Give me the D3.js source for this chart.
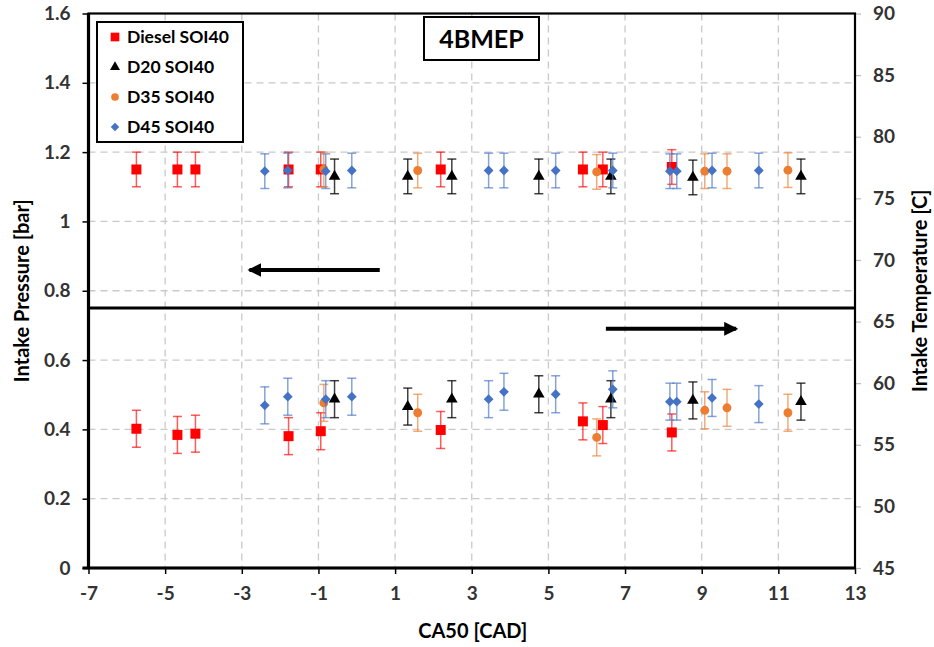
<!DOCTYPE html>
<html>
<head>
<meta charset="utf-8">
<script src="https://cdnjs.cloudflare.com/ajax/libs/d3/7.8.5/d3.min.js"></script>
<style>
    body { margin: 0; background: #fff; }
    #chart { width: 934px; height: 647px; }
    text { font-family: Lato, "Open Sans", sans-serif; }
</style>
</head>
<body>
<div id="chart"></div>
<script>

// ---- data ----
// CA50 [CAD] of each operating point, pressure in bar, temperature in C
const dieselCA50 = [-5.75, -4.68, -4.21, -1.78, -0.94, 2.19, 5.9, 6.42, 8.22];
const dieselPressure = [1.15, 1.15, 1.15, 1.15, 1.15, 1.15, 1.15, 1.15, 1.157];
const dieselTemp = [56.3, 55.8, 55.9, 55.7, 56.1, 56.2, 56.9, 56.6, 56.0];

const d20CA50 = [-0.58, 1.33, 2.48, 4.75, 6.63, 8.77, 11.59];
const d20Pressure = [1.13, 1.13, 1.13, 1.13, 1.13, 1.127, 1.13];
const d20Temp = [58.7, 58.1, 58.7, 59.1, 58.7, 58.6, 58.5];

const d35CA50 = [-0.86, 1.59, 6.26, 9.08, 9.66, 11.25];
const d35Pressure = [1.15, 1.147, 1.143, 1.145, 1.145, 1.148];
const d35Temp = [58.4, 57.6, 55.6, 57.8, 58.0, 57.6];

const d45CA50 = [-2.4, -1.8, -0.81, -0.13, 3.44, 3.84, 5.19, 6.68, 8.17, 8.35, 9.27, 10.49];
const d45Pressure = [1.145, 1.147, 1.145, 1.147, 1.147, 1.147, 1.147, 1.147, 1.145, 1.145, 1.147, 1.147];
const d45Temp = [58.2, 58.9, 58.7, 58.9, 58.7, 59.3, 59.1, 59.5, 58.5, 58.5, 58.8, 58.3];

const seriesNames = ["Diesel SOI40", "D20 SOI40", "D35 SOI40", "D45 SOI40"];
const pressureErr = 0.05;
const tempErr = 1.5;

const xTicks = [-7, -5, -3, -1, 1, 3, 5, 7, 9, 11, 13];
const pressureTicks = [0, 0.2, 0.4, 0.6, 0.8, 1, 1.2, 1.4, 1.6];
const tempTicks = [45, 50, 55, 60, 65, 70, 75, 80, 85, 90];

// divider between the two panels and the two arrows (CA50 from -> to, at pressure level)
const dividerPressure = 0.75;
const arrowFrom = [0.6, 6.5];
const arrowTo = [-2.8, 9.9];
const arrowLevel = [0.86, 0.69];


class DualAxisVis {

    constructor(parentElement){
        this.parentElement = parentElement;
        this.initVis();
    }

    initVis(){
        let vis = this;

        vis.margin = {top: 13.5, right: 79, bottom: 79, left: 88.5};
        vis.width = 934 - vis.margin.left - vis.margin.right;
        vis.height = 647 - vis.margin.top - vis.margin.bottom;

        vis.root = d3.select("#" + vis.parentElement).append("svg")
            .attr("width", 934)
            .attr("height", 647);

        vis.svg = vis.root.append("g")
            .attr("transform", `translate(${vis.margin.left}, ${vis.margin.top})`);

        // scales
        vis.x = d3.scaleLinear().domain([-7, 13]).range([0, vis.width]);
        vis.yP = d3.scaleLinear().domain([0, 1.6]).range([vis.height, 0]);
        vis.yT = d3.scaleLinear().domain([45, 90]).range([vis.height, 0]);

        vis.colors = ["#ff0000", "#000000", "#ed7d31", "#4472c4"];
        vis.shapes = [d3.symbolSquare, d3.symbolTriangle, d3.symbolCircle, d3.symbolSquare];
        vis.sizes = [100, 58, 62, 48];
        vis.rotations = [0, 0, 0, 45];

        vis.series = [
            {x: dieselCA50, p: dieselPressure, t: dieselTemp},
            {x: d20CA50, p: d20Pressure, t: d20Temp},
            {x: d35CA50, p: d35Pressure, t: d35Temp},
            {x: d45CA50, p: d45Pressure, t: d45Temp}
        ];

        vis.updateVis();
    }

    updateVis(){
        let vis = this;

        // gridlines
        vis.svg.append("g")
            .attr("class", "grid")
            .selectAll("line.h")
            .data(pressureTicks.slice(1, -1))
            .enter().append("line")
            .attr("x1", 0).attr("x2", vis.width)
            .attr("y1", d => vis.yP(d)).attr("y2", d => vis.yP(d))
            .attr("stroke", "#c9c9c9").attr("stroke-width", 1.3)
            .attr("stroke-dasharray", "7,5");

        vis.svg.append("g")
            .attr("class", "grid")
            .selectAll("line.v")
            .data(xTicks.slice(1, -1))
            .enter().append("line")
            .attr("y1", 0).attr("y2", vis.height)
            .attr("x1", d => vis.x(d)).attr("x2", d => vis.x(d))
            .attr("stroke", "#c9c9c9").attr("stroke-width", 1.3)
            .attr("stroke-dasharray", "7,5");

        // axes
        let xAxis = d3.axisBottom(vis.x).tickValues(xTicks).tickSize(6).tickPadding(13)
            .tickFormat(d => String(d));
        let yAxis = d3.axisLeft(vis.yP).tickValues(pressureTicks).tickSize(6).tickPadding(12)
            .tickFormat(d => d === 0 || d === 1 ? String(d) : d3.format(".1f")(d));
        let yAxisRight = d3.axisRight(vis.yT).tickValues(tempTicks).tickSize(6).tickPadding(12);

        let gx = vis.svg.append("g").attr("transform", `translate(0, ${vis.height})`).call(xAxis);
        let gy = vis.svg.append("g").call(yAxis);
        let gr = vis.svg.append("g").attr("transform", `translate(${vis.width}, 0)`).call(yAxisRight);

        [gx, gy, gr].forEach(g => {
            g.select(".domain").remove();
            g.selectAll("text")
                .style("font-size", "19px")
                .style("font-weight", "bold")
                .attr("fill", "#333");
        });
        gx.selectAll("line").attr("stroke", "#000").attr("stroke-width", 1.5);
        gy.selectAll("line").attr("stroke", "#000").attr("stroke-width", 1.5);
        gr.selectAll("line").attr("stroke", "#bbb").attr("stroke-width", 1.2);

        // plot frame
        vis.svg.append("rect")
            .attr("width", vis.width).attr("height", vis.height)
            .attr("fill", "none").attr("stroke", "#000").attr("stroke-width", 2.2);
        vis.svg.append("line")
            .attr("x1", 0).attr("x2", 0).attr("y1", 0).attr("y2", vis.height)
            .attr("stroke", "#000").attr("stroke-width", 3.2);
        vis.svg.append("line")
            .attr("x1", -6).attr("x2", vis.width).attr("y1", vis.height).attr("y2", vis.height)
            .attr("stroke", "#000").attr("stroke-width", 3.2);

        // divider
        vis.svg.append("line")
            .attr("x1", 0).attr("x2", vis.width)
            .attr("y1", vis.yP(dividerPressure)).attr("y2", vis.yP(dividerPressure))
            .attr("stroke", "#000").attr("stroke-width", 3);

        // arrows
        vis.root.append("defs").append("marker")
            .attr("id", "head")
            .attr("markerUnits", "userSpaceOnUse")
            .attr("viewBox", "0 0 14 14")
            .attr("refX", 12).attr("refY", 7)
            .attr("markerWidth", 14).attr("markerHeight", 14)
            .attr("orient", "auto")
            .append("path")
            .attr("d", "M0,0 L14,7 L0,14 Z")
            .attr("fill", "#000");

        vis.svg.selectAll(".arrow")
            .data(arrowFrom)
            .enter().append("line")
            .attr("class", "arrow")
            .attr("x1", d => vis.x(d))
            .attr("x2", (d, i) => vis.x(arrowTo[i]))
            .attr("y1", (d, i) => vis.yP(arrowLevel[i]))
            .attr("y2", (d, i) => vis.yP(arrowLevel[i]))
            .attr("stroke", "#000").attr("stroke-width", 4)
            .attr("marker-end", "url(#head)");

        // error bars + markers, pressure (left axis) then temperature (right axis)
        let panels = [
            {key: "p", y: vis.yP, err: pressureErr},
            {key: "t", y: vis.yT, err: tempErr}
        ];

        panels.forEach(panel => {
            vis.series.forEach((s, i) => {
                let pts = s.x.map((cx, j) => ({x: cx, v: s[panel.key][j]}));
                let g = vis.svg.append("g").attr("class", "series-" + i);

                let eb = g.selectAll(".err")
                    .data(pts)
                    .enter().append("g")
                    .attr("class", "err")
                    .attr("stroke", vis.colors[i])
                    .attr("stroke-opacity", i === 1 ? 0.75 : 0.65)
                    .attr("stroke-width", 1.5);

                eb.append("line")
                    .attr("x1", d => vis.x(d.x)).attr("x2", d => vis.x(d.x))
                    .attr("y1", d => panel.y(d.v - panel.err))
                    .attr("y2", d => panel.y(d.v + panel.err));
                eb.append("line")
                    .attr("x1", d => vis.x(d.x) - 4.5).attr("x2", d => vis.x(d.x) + 4.5)
                    .attr("y1", d => panel.y(d.v + panel.err))
                    .attr("y2", d => panel.y(d.v + panel.err));
                eb.append("line")
                    .attr("x1", d => vis.x(d.x) - 4.5).attr("x2", d => vis.x(d.x) + 4.5)
                    .attr("y1", d => panel.y(d.v - panel.err))
                    .attr("y2", d => panel.y(d.v - panel.err));

                g.selectAll(".pt")
                    .data(pts)
                    .enter().append("path")
                    .attr("class", "pt")
                    .attr("d", d3.symbol().type(vis.shapes[i]).size(vis.sizes[i]))
                    .attr("transform", d => `translate(${vis.x(d.x)}, ${panel.y(d.v)}) rotate(${vis.rotations[i]})`)
                    .attr("fill", vis.colors[i]);
            });
        });

        // legend
        let legend = vis.root.append("g").attr("transform", "translate(97, 22)");
        legend.append("rect")
            .attr("width", 146).attr("height", 120)
            .attr("fill", "#fff").attr("stroke", "#000").attr("stroke-width", 2);

        let rows = legend.selectAll(".row")
            .data(seriesNames)
            .enter().append("g")
            .attr("class", "row")
            .attr("transform", (d, i) => `translate(0, ${15 + i * 30})`);

        rows.append("path")
            .attr("d", (d, i) => d3.symbol().type(vis.shapes[i]).size(vis.sizes[i] * 0.75)())
            .attr("transform", (d, i) => `translate(18, 0) rotate(${vis.rotations[i]})`)
            .attr("fill", (d, i) => vis.colors[i]);

        rows.append("text")
            .attr("x", 30).attr("y", 6)
            .style("font-size", "17.5px").style("font-weight", "bold")
            .attr("fill", "#000")
            .text(d => d);

        // title box
        let title = vis.root.append("g").attr("transform", "translate(424, 17)");
        title.append("rect")
            .attr("width", 115).attr("height", 43)
            .attr("fill", "#fff").attr("stroke", "#000").attr("stroke-width", 2);
        title.append("text")
            .attr("x", 57.5).attr("y", 30.5)
            .attr("text-anchor", "middle")
            .style("font-size", "25px").style("font-weight", "bold")
            .text("4BMEP");

        // axis titles
        vis.root.append("text")
            .attr("transform", `translate(29, ${vis.margin.top + vis.height / 2}) rotate(-90)`)
            .attr("text-anchor", "middle")
            .style("font-size", "20px").style("font-weight", "bold")
            .attr("fill", "#000")
            .text("Intake Pressure [bar]");

        vis.root.append("text")
            .attr("transform", `translate(927, ${vis.margin.top + vis.height / 2}) rotate(-90)`)
            .attr("text-anchor", "middle")
            .style("font-size", "20px").style("font-weight", "bold")
            .attr("fill", "#000")
            .text("Intake Temperature [C]");

        vis.root.append("text")
            .attr("x", vis.margin.left + vis.width / 2 + 1)
            .attr("y", 638)
            .attr("text-anchor", "middle")
            .style("font-size", "20px").style("font-weight", "bold")
            .attr("fill", "#000")
            .text("CA50 [CAD]");
    }
}

let myVis = new DualAxisVis("chart");

</script>
</body>
</html>
